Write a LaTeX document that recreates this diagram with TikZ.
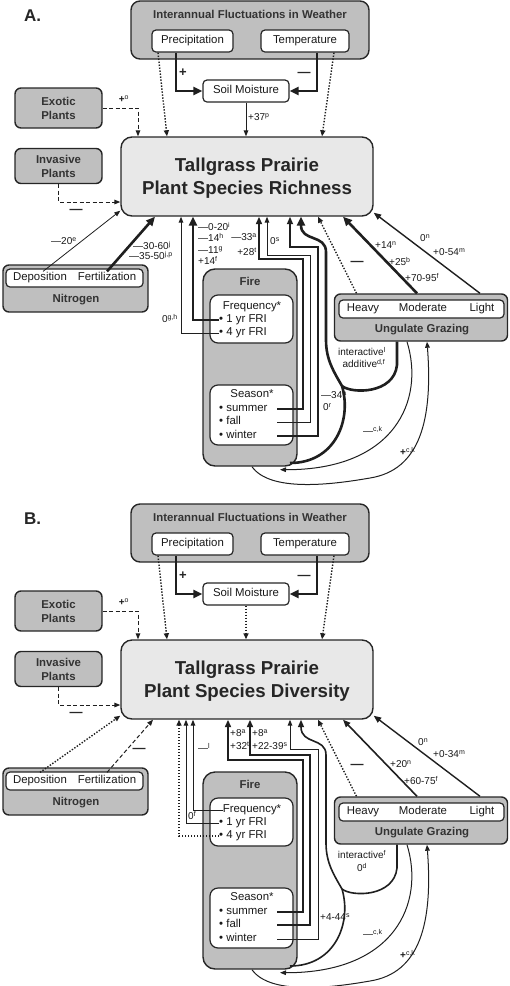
\documentclass[tikz,border=0pt]{standalone}
\usepackage{fontspec}
\setmainfont{Liberation Sans}
\usetikzlibrary{arrows.meta}
\tikzset{
 base/.style={draw=black!85, line width=1.4pt, rounded corners=6pt, inner sep=0pt},
 gbox/.style={base, fill=black!25},
 wbox/.style={base, fill=white, line width=1.2pt, rounded corners=4pt},
 tbox/.style={base, fill=black!9, rounded corners=11pt},
 txt/.style={inner sep=0pt, font=\fontsize{11.4}{13.5}\selectfont, text=black!90, text height=8.3pt, text depth=2.4pt},
 btx2/.style={inner sep=0pt, font=\bfseries\fontsize{11.4}{14}\selectfont, text=black!80},
 btxt/.style={btx2, text height=8.3pt, text depth=2.4pt},
 ttl/.style={inner sep=0pt, align=center, font=\bfseries\fontsize{18.7}{23}\selectfont, text=black!85},
 lbl/.style={inner sep=0pt, font=\fontsize{10}{12}\selectfont, text=black!90, text height=7.3pt, text depth=2pt},
 pm/.style={inner sep=0pt, font=\bfseries\fontsize{13}{14}\selectfont, text=black!85},
 lett/.style={inner sep=0pt, font=\bfseries\fontsize{17}{20}\selectfont, text=black!85},
 cn/.style={draw=black!88, line width=1pt, -{Triangle[length=6pt,width=4.6pt]}},
 cnm/.style={draw=black!88, line width=1.6pt, -{Triangle[length=7.5pt,width=6pt]}},
 cnk/.style={draw=black!88, line width=2.6pt, -{Triangle[length=9pt,width=8pt]}},
 dotl/.style={draw=black!88, line width=1.4pt, dash pattern=on 1.4pt off 1.6pt, -{Triangle[length=6pt,width=5pt]}},
 dashl/.style={draw=black!88, line width=1pt, dash pattern=on 4pt off 2.5pt, -{Triangle[length=6pt,width=4.6pt]}},
}
\newcommand\pbox[3]{%
\node[lett,anchor=west] (#1L) at (24,16) {#3.};
\node[gbox,minimum width=238pt,minimum height=58pt,rounded corners=9pt] (#1W) at (250,30) {};
\node[btxt] (#1Wt) at (250,16) {Interannual Fluctuations in Weather};
\node[wbox,txt,minimum width=81pt,minimum height=22pt] (#1P) at (192.5,41) {Precipitation};
\node[wbox,txt,minimum width=88pt,minimum height=22pt] (#1Te) at (305,41) {Temperature};
\node[wbox,txt,minimum width=86pt,minimum height=22pt] (#1S) at (246,91) {Soil Moisture};
\node[gbox,btx2,align=center,minimum width=87pt,minimum height=40pt] (#1E) at (58.5,108) {Exotic\\Plants};
\node[gbox,btx2,align=center,minimum width=87pt,minimum height=35pt] (#1I) at (58.5,166) {Invasive\\Plants};
\node[tbox,minimum width=252pt,minimum height=79pt] (#1T) at (247,176.5) {};
\node[ttl] (#1Tt) at (247,178) {Tallgrass Prairie\\Plant Species #2};
\node[gbox,minimum width=145pt,minimum height=47pt] (#1N) at (75.5,288.5) {};
\node[wbox,minimum width=137pt,minimum height=18pt] (#1Ni) at (74.5,278) {};
\node[txt] (#1Nd) at (40,278) {Deposition};
\node[txt] (#1Nf) at (107,278) {Fertilization};
\node[btxt] (#1Nt) at (76,300) {Nitrogen};
\node[gbox,minimum width=94pt,minimum height=197pt,rounded corners=12pt] (#1Fi) at (250,367.5) {};
\node[btxt] (#1Fit) at (250,283) {Fire};
\node[wbox,minimum width=83pt,minimum height=48pt,rounded corners=8pt] (#1Fq) at (251.5,319) {};
\node[txt] (#1Fqt) at (252,307) {Frequency*};
\node[txt,anchor=west] (#1F1) at (219,320) {• 1 yr FRI};
\node[txt,anchor=west] (#1F4) at (219,333) {• 4 yr FRI};
\node[wbox,minimum width=83pt,minimum height=60pt,rounded corners=8pt] (#1Se) at (251.5,415) {};
\node[txt] (#1Set) at (252,395) {Season*};
\node[txt,anchor=west] (#1Su) at (219,409) {• summer};
\node[txt,anchor=west] (#1Fa) at (219,422) {• fall};
\node[txt,anchor=west] (#1Wi) at (219,436) {• winter};
\node[gbox,minimum width=173pt,minimum height=47pt] (#1G) at (421,317.5) {};
\node[wbox,minimum width=165pt,minimum height=18pt] (#1Gi) at (421.5,309) {};
\node[txt] (#1Gh) at (363,309) {Heavy};
\node[txt] (#1Gm) at (423,309) {Moderate};
\node[txt] (#1Gl) at (482,309) {Light};
\node[btxt] (#1Gt) at (422,330) {Ungulate Grazing};
\coordinate (#1Su1) at (277,409);
\coordinate (#1Fa1) at (277,422);
\coordinate (#1Wi1) at (277,436);
\coordinate (#1Fb) at (290,463);
\coordinate (#1J) at (342,386);
% common connectors
\draw[cnk] ([xshift=-16.5pt]#1P.south) |- (#1S.west);
\draw[cnk] ([xshift=12pt]#1Te.south) |- (#1S.east);
\node[pm] (#1p1) at (183,73) {+};
\node[pm] (#1p2) at (304,74) {—};
\draw[dotl] ([xshift=-34.5pt]#1P.south) -- ([xshift=-80pt]#1T.north);
\draw[dotl] ([xshift=29pt]#1Te.south) -- ([xshift=75pt]#1T.north);
\draw[dashl] (#1E.east) -| ([xshift=-109pt]#1T.north);
\node[lbl] (#1l1) at (124,100) {\textbf{+}\textsuperscript{o}};
\draw[dashl] (#1I.south) |- ([yshift=-25.5pt]#1T.west);
\node[pm] (#1l2) at (76,211) {—};
\draw[dotl] ([xshift=-64.5pt]#1G.north) -- ([xshift=71pt]#1T.south);
\draw[cn] ([xshift=-14pt]#1G.south) .. controls (425,400) and (395,470) .. ([xshift=30pt,yshift=-3pt]#1Fi.south);
\draw[cn] ([xshift=2pt]#1Fi.south) .. controls (270,492) and (330,485) .. (370,478) .. controls (420,470) and (433,420) .. ([xshift=6pt]#1G.south);
\node[lbl,anchor=west] (#1l3) at (363,432) {—\textsuperscript{c,k}};
\node[lbl,anchor=west] (#1l4) at (400,453) {\textbf{+}\textsuperscript{c,k}};
\node[pm] (#1l5) at (357,263) {—};
}
\begin{document}
\begin{tikzpicture}[x=1pt,y=-1pt]
\useasboundingbox (0,0) rectangle (510,986);
% ================= PANEL A
\pbox{a}{Richness}{A}
\draw[cn] (aS.south) -- (aS.south |- aT.north);
\node[lbl,anchor=west] (al0) at (248,118) {+37\textsuperscript{p}};
\draw[cn,line width=0.8pt] ([xshift=-31.5pt,yshift=-3pt]aNi.north) -- ([yshift=6pt]aT.south west);
\draw[cnk] ([xshift=32.5pt,yshift=-3pt]aNi.north) -- ([xshift=-92pt]aT.south);
\node[lbl] (al6) at (64,242) {—20\textsuperscript{e}};
\node[lbl,anchor=west] (al7) at (133,247) {—30-60\textsuperscript{j}};
\node[lbl,anchor=west] (al8) at (129,257) {—35-50\textsuperscript{j,p}};
\draw[cnk] (aF1.west) -| ([xshift=-54pt]aT.south);
\draw[cn] (aF4.west) -| ([xshift=-66pt]aT.south);
\node[lbl,anchor=west] (al9) at (198,228) {—0-20\textsuperscript{i}};
\node[lbl,anchor=west] (al10) at (198,239) {—14\textsuperscript{h}};
\node[lbl,anchor=west] (al11) at (198,251) {—11\textsuperscript{g}};
\node[lbl,anchor=west] (al12) at (198,262) {+14\textsuperscript{f}};
\node[lbl,anchor=east] (al13) at (178,320) {0\textsuperscript{g,h}};
\draw[cnm,line width=2.1pt] (aSu1) -| (303,259) -| ([xshift=12pt]aT.south);
\draw[cn] (aFa1) -| (310,255) -| ([xshift=20pt]aT.south);
\draw[cnm] (aWi1) -| (318,247) -| ([xshift=43pt]aT.south);
\node[lbl,anchor=east] (al14) at (257,238) {—33\textsuperscript{a}};
\node[lbl,anchor=east] (al15) at (257,253) {+28\textsuperscript{t}};
\node[lbl,anchor=west] (al16) at (270,242) {0\textsuperscript{s}};
\node[lbl,anchor=west] (al17) at (321,396) {—34\textsuperscript{a}};
\node[lbl,anchor=west] (al18) at (323,408) {0\textsuperscript{r}};
\draw[cnk] (aFb) .. controls (335,463) and (352,420) .. (aJ) .. controls (334,372) and (326,360) .. (326,340) -- (326,252) .. controls (326,234) and (301,242) .. ([xshift=54pt]aT.south);
\draw[draw=black!88,line width=2.6pt] (aJ) .. controls (352,394) and (394,394) .. (397,365) -- ([xshift=-24pt]aG.south);
\node[lbl] (al19) at (362,353) {interactive\textsuperscript{l}};
\node[lbl] (al20) at (364,365) {additive\textsuperscript{d,f}};
\draw[cnk] ([xshift=-4pt]aG.north) -- ([xshift=96pt]aT.south);
\draw[cnm,line width=1.4pt] ([xshift=59pt]aG.north) -- ([yshift=4pt]aT.south east);
\node[lbl,anchor=west] (al21) at (375,246) {+14\textsuperscript{n}};
\node[lbl,anchor=west] (al22) at (389,263) {+25\textsuperscript{b}};
\node[lbl,anchor=west] (al23) at (405,279) {+70-95\textsuperscript{f}};
\node[lbl,anchor=west] (al24) at (420,239) {0\textsuperscript{n}};
\node[lbl,anchor=west] (al25) at (433,253) {+0-54\textsuperscript{m}};
% ================= PANEL B
\begin{scope}[yshift=-503pt]
\pbox{b}{Diversity}{B}
\draw[dotl] (bS.south) -- (bS.south |- bT.north);
\draw[dotl] ([xshift=-34.5pt,yshift=-1pt]bNi.north) -- ([yshift=4pt]bT.south west);
\draw[dashl] ([xshift=32.5pt,yshift=-1pt]bNi.north) -- ([xshift=-94pt]bT.south);
\node[pm] (bl6) at (139,247) {—};
\draw[cn] (bFqt.west) -| ([xshift=-54pt]bT.south);
\draw[cn] (bF1.west) -| ([xshift=-61pt]bT.south);
\draw[dotl] (bF4.west) -| ([xshift=-68pt]bT.south);
\node[lbl,anchor=west] (bl7) at (188,314) {0\textsuperscript{f}};
\node[lbl,anchor=west] (bl8) at (198,246) {—\textsuperscript{l}};
\draw[cnm,line width=2.1pt] (bSu1) -| (303,257) -| ([xshift=-19pt]bT.south);
\draw[cnm,line width=2.1pt] (bFa1) -| (310,252) -| ([xshift=3pt]bT.south);
\draw[cn] (bWi1) -| (318,246) -| ([xshift=43pt]bT.south);
\node[lbl,anchor=west] (bl9) at (230,231) {+8\textsuperscript{a}};
\node[lbl,anchor=west] (bl10) at (230,244) {+32\textsuperscript{t}};
\node[lbl,anchor=west] (bl11) at (252,231) {+8\textsuperscript{a}};
\node[lbl,anchor=west] (bl12) at (252,244) {+22-39\textsuperscript{s}};
\node[lbl,anchor=west] (bl13) at (320,415) {+4-44\textsuperscript{s}};
\draw[cnm] (bFb) .. controls (335,463) and (352,420) .. (bJ) .. controls (334,372) and (326,360) .. (326,340) -- (326,252) .. controls (326,234) and (301,242) .. ([xshift=54pt]bT.south);
\draw[draw=black!88,line width=1.6pt] (bJ) .. controls (352,394) and (394,394) .. (397,365) -- ([xshift=-24pt]bG.south);
\node[lbl] (bl14) at (362,353) {interactive\textsuperscript{f}};
\node[lbl] (bl15) at (362,366) {0\textsuperscript{d}};
\draw[cnm] ([xshift=-4pt]bG.north) -- ([xshift=96pt]bT.south);
\draw[cnm,line width=1.4pt] ([xshift=59pt]bG.north) -- ([yshift=4pt]bT.south east);
\node[lbl,anchor=west] (bl16) at (390,262) {+20\textsuperscript{n}};
\node[lbl,anchor=west] (bl17) at (404,279) {+60-75\textsuperscript{f}};
\node[lbl,anchor=west] (bl18) at (418,240) {0\textsuperscript{n}};
\node[lbl,anchor=west] (bl19) at (433,252) {+0-34\textsuperscript{m}};
\end{scope}
\end{tikzpicture}
\end{document}
